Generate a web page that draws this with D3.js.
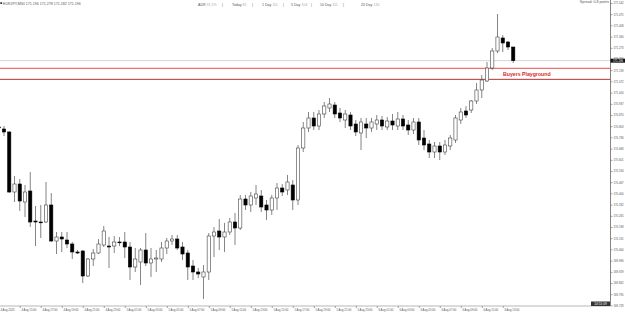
<!DOCTYPE html>
<html>
<head>
<meta charset="utf-8">
<script src="https://cdn.jsdelivr.net/npm/d3@7/dist/d3.min.js"></script>
<style>
    html, body { margin: 0; padding: 0; background: #fff; }
    svg { display: block; font-family: Arial, "Liberation Sans", sans-serif; }
    .axis text { fill: #555; font-size: 2.8px; }
    .axis line { stroke: #666; stroke-width: 0.6; }
    .hdr { fill: #555; font-size: 3.6px; }
    .hdr-val { fill: #aaa; }
</style>
</head>
<body>
<div id="chart"></div>
<script>
// EURJPY M30, one entry per bar (first bar is the clipped one at the left edge)
const candleOpen = [
    170.798, 170.786, 170.768, 170.408, 170.456, 170.348, 170.414, 170.234, 170.228, 170.228,
    170.330, 170.114, 170.138, 170.120, 170.096, 170.048, 170.054, 169.904, 170.006, 170.042,
    170.090, 170.084, 170.084, 170.108, 170.108, 170.078, 169.958, 169.988, 170.060, 169.982,
    170.006, 170.006, 170.072, 170.114, 170.126, 170.078, 170.042, 169.964, 169.928, 169.898,
    169.928, 170.144, 170.174, 170.138, 170.168, 170.228, 170.192, 170.366, 170.330, 170.372,
    170.384, 170.330, 170.300, 170.372, 170.432, 170.420, 170.450, 170.360, 170.672, 170.792,
    170.852, 170.804, 170.876, 170.912, 170.930, 170.882, 170.840, 170.870, 170.816, 170.762,
    170.816, 170.792, 170.816, 170.840, 170.798, 170.834, 170.804, 170.846, 170.810, 170.780,
    170.828, 170.732, 170.696, 170.648, 170.684, 170.648, 170.684, 170.720, 170.840, 170.894,
    170.900, 170.954, 171.020, 171.074, 171.152, 171.254, 171.332, 171.308, 171.278
];
const candleHigh = [
    170.816, 170.804, 170.774, 170.504, 170.486, 170.450, 170.528, 170.324, 170.330, 170.468,
    170.402, 170.168, 170.168, 170.168, 170.108, 170.060, 170.060, 170.012, 170.066, 170.126,
    170.204, 170.138, 170.144, 170.138, 170.168, 170.108, 170.072, 170.072, 170.162, 170.072,
    170.060, 170.108, 170.132, 170.150, 170.150, 170.108, 170.060, 170.000, 169.952, 169.970,
    170.162, 170.198, 170.246, 170.222, 170.252, 170.282, 170.390, 170.390, 170.408, 170.450,
    170.420, 170.360, 170.390, 170.462, 170.456, 170.510, 170.480, 170.690, 170.828, 170.888,
    170.888, 170.900, 170.948, 170.972, 170.948, 170.912, 170.900, 170.888, 170.840, 170.852,
    170.852, 170.852, 170.870, 170.864, 170.858, 170.876, 170.888, 170.870, 170.840, 170.852,
    170.852, 170.780, 170.720, 170.708, 170.708, 170.720, 170.750, 170.870, 170.912, 170.924,
    170.960, 171.062, 171.110, 171.188, 171.272, 171.476, 171.350, 171.314, 171.278
];
const candleLow = [
    170.780, 170.744, 170.402, 170.348, 170.294, 170.258, 170.198, 170.084, 170.132, 170.222,
    170.108, 170.036, 170.048, 170.072, 170.006, 170.036, 169.862, 169.898, 169.964, 170.036,
    170.078, 169.952, 170.042, 170.084, 170.012, 169.880, 169.928, 169.850, 169.964, 169.898,
    169.928, 169.988, 170.036, 170.090, 170.060, 170.000, 169.880, 169.880, 169.892, 169.766,
    169.880, 170.018, 170.060, 170.048, 170.150, 170.090, 170.180, 170.300, 170.288, 170.330,
    170.288, 170.240, 170.270, 170.300, 170.384, 170.390, 170.300, 170.330, 170.648, 170.768,
    170.780, 170.780, 170.852, 170.888, 170.852, 170.828, 170.792, 170.780, 170.744, 170.660,
    170.732, 170.768, 170.780, 170.780, 170.780, 170.780, 170.780, 170.780, 170.750, 170.756,
    170.690, 170.660, 170.612, 170.612, 170.600, 170.630, 170.660, 170.702, 170.816, 170.852,
    170.882, 170.936, 170.972, 171.068, 171.140, 171.242, 171.248, 171.260, 171.182
];
const candleClose = [
    170.795, 170.768, 170.408, 170.456, 170.354, 170.408, 170.228, 170.228, 170.226, 170.330,
    170.114, 170.138, 170.126, 170.096, 170.048, 170.042, 169.904, 170.006, 170.042, 170.096,
    170.174, 170.078, 170.108, 170.106, 170.078, 169.958, 170.006, 170.060, 169.982, 170.006,
    170.012, 170.072, 170.114, 170.126, 170.072, 170.036, 169.958, 169.928, 169.916, 169.928,
    170.144, 170.168, 170.138, 170.168, 170.228, 170.192, 170.366, 170.330, 170.384, 170.396,
    170.318, 170.300, 170.372, 170.432, 170.408, 170.468, 170.360, 170.672, 170.792, 170.852,
    170.804, 170.876, 170.924, 170.936, 170.876, 170.852, 170.876, 170.804, 170.768, 170.828,
    170.792, 170.828, 170.840, 170.804, 170.834, 170.810, 170.846, 170.804, 170.780, 170.828,
    170.720, 170.690, 170.648, 170.684, 170.648, 170.690, 170.732, 170.852, 170.888, 170.870,
    170.954, 171.020, 171.080, 171.152, 171.254, 171.338, 171.302, 171.278, 171.196
];

// one label every 4 bars, starting at the first (clipped) bar
const timeLabels = [
    '4 Aug 2025', '4 Aug 15:00', '4 Aug 17:00', '4 Aug 19:00', '4 Aug 21:00', '4 Aug 23:00',
    '5 Aug 01:00', '5 Aug 03:00', '5 Aug 05:00', '5 Aug 07:00', '5 Aug 09:00', '5 Aug 11:00',
    '5 Aug 13:00', '5 Aug 15:00', '5 Aug 17:00', '5 Aug 19:00', '5 Aug 21:00', '5 Aug 23:00',
    '6 Aug 01:00', '6 Aug 03:00', '6 Aug 05:00', '6 Aug 07:00', '6 Aug 09:00', '6 Aug 11:00',
    '6 Aug 13:00'
];

const priceTicks = [
    171.542, 171.475, 171.408, 171.340, 171.273, 171.206, 171.139, 171.072, 171.004, 170.937,
    170.870, 170.803, 170.736, 170.668, 170.601, 170.534, 170.467, 170.400, 170.332, 170.265,
    170.198, 170.131, 170.064, 169.996, 169.929, 169.862, 169.795, 169.728
];

const zoneTop = 171.150;
const zoneBottom = 171.084;
const zoneLabel = 'Buyers Playground';

const adrNames = ['ADR', 'Today', '1 Day', '5 Day', '10 Day', '20 Day'];
const adrValues = ['91.5%', '81', '111', '104', '111', '130'];

const symbolTitle = 'EURJPY,M30';
const spreadText = 'Spread: 0.8 points';
const countdownText = '14:51:09';

const width = 625;
const height = 314;
const axisX = 610.5;
const axisY = 306;

const svg = d3.select('#chart')
    .append('svg')
    .attr('width', width)
    .attr('height', height)
    .attr('viewBox', `0 0 ${width} ${height}`);

const candles = candleOpen.map((open, i) => ({
    i,
    open,
    high: candleHigh[i],
    low: candleLow[i],
    close: candleClose[i]
}));

const x = d3.scaleLinear()
    .domain([0, candles.length - 1])
    .range([-1.25, 513.25]);

const y = d3.scaleLinear()
    .domain([169.700, 171.560])
    .range([310, 0]);

const bodyWidth = 3.2;

const plot = svg.append('g');
plot.append('clipPath')
    .attr('id', 'plot-clip')
    .append('rect')
    .attr('x', 0)
    .attr('y', 0)
    .attr('width', axisX)
    .attr('height', axisY);

const marks = plot.append('g').attr('clip-path', 'url(#plot-clip)');

// horizontal levels
marks.append('line')
    .attr('x1', 0).attr('x2', axisX)
    .attr('y1', y(candleClose[candleClose.length - 1]))
    .attr('y2', y(candleClose[candleClose.length - 1]))
    .attr('stroke', '#d6d6d6')
    .attr('stroke-width', 1);

marks.append('line')
    .attr('x1', 0).attr('x2', axisX)
    .attr('y1', y(zoneTop)).attr('y2', y(zoneTop))
    .attr('stroke', '#f07070')
    .attr('stroke-width', 1.3);

marks.append('line')
    .attr('x1', 0).attr('x2', axisX)
    .attr('y1', y(zoneBottom)).attr('y2', y(zoneBottom))
    .attr('stroke', '#b83030')
    .attr('stroke-width', 1);

marks.append('text')
    .attr('x', 503)
    .attr('y', (y(zoneTop) + y(zoneBottom)) / 2 + 1.8)
    .attr('fill', '#e02424')
    .attr('font-size', 5.2)
    .attr('font-weight', 'bold')
    .text(zoneLabel);

// candles
const bars = marks.append('g')
    .selectAll('g')
    .data(candles)
    .join('g');

bars.append('line')
    .attr('x1', d => x(d.i))
    .attr('x2', d => x(d.i))
    .attr('y1', d => y(d.high))
    .attr('y2', d => y(d.low))
    .attr('stroke', '#666')
    .attr('stroke-width', 0.8);

bars.append('rect')
    .attr('x', d => x(d.i) - bodyWidth / 2)
    .attr('y', d => y(Math.max(d.open, d.close)))
    .attr('width', bodyWidth)
    .attr('height', d => Math.max(Math.abs(y(d.open) - y(d.close)), 0.8))
    .attr('fill', d => d.close < d.open ? '#000' : '#fff')
    .attr('stroke', d => d.close < d.open ? '#000' : '#444')
    .attr('stroke-width', 0.6);

// price axis
const yAxis = svg.append('g')
    .attr('class', 'axis')
    .attr('transform', `translate(${axisX},0)`)
    .call(d3.axisRight(y)
        .tickValues(priceTicks)
        .tickSize(2)
        .tickPadding(1)
        .tickFormat(d3.format('.3f')));
yAxis.select('.domain').remove();

svg.append('line')
    .attr('x1', axisX).attr('x2', axisX)
    .attr('y1', 0).attr('y2', axisY)
    .attr('stroke', '#666')
    .attr('stroke-width', 0.8);

// time axis
const labelIndex = timeLabels.map((_, j) => j * 4);
const xAxis = svg.append('g')
    .attr('class', 'axis')
    .attr('transform', `translate(0,${axisY})`)
    .call(d3.axisBottom(x)
        .tickValues(labelIndex)
        .tickSize(2)
        .tickPadding(1.2)
        .tickFormat((d, j) => timeLabels[j]));
xAxis.select('.domain').remove();
xAxis.selectAll('text')
    .attr('text-anchor', 'start')
    .attr('dx', 1.2);

svg.append('line')
    .attr('x1', 0).attr('x2', axisX)
    .attr('y1', axisY).attr('y2', axisY)
    .attr('stroke', '#888')
    .attr('stroke-width', 0.6);

// current price tag
const last = candleClose[candleClose.length - 1];
svg.append('rect')
    .attr('x', axisX)
    .attr('y', y(last) - 2)
    .attr('width', width - axisX)
    .attr('height', 4)
    .attr('fill', '#111');
svg.append('text')
    .attr('x', axisX + 2.5)
    .attr('y', y(last) + 1)
    .attr('fill', '#fff')
    .attr('font-size', 2.8)
    .text(d3.format('.3f')(last));

// countdown box
svg.append('rect')
    .attr('x', 591)
    .attr('y', 301.5)
    .attr('width', 19)
    .attr('height', 4.5)
    .attr('fill', '#333');
svg.append('text')
    .attr('x', 600.5)
    .attr('y', 305)
    .attr('text-anchor', 'middle')
    .attr('fill', '#fff')
    .attr('font-size', 3.2)
    .text(countdownText);

// header
svg.append('rect')
    .attr('x', 0.3).attr('y', 2.2)
    .attr('width', 1.8).attr('height', 1.8)
    .attr('fill', '#333');
svg.append('text')
    .attr('class', 'hdr')
    .attr('x', 3)
    .attr('y', 5)
    .attr('font-size', 3)
    .text(`${symbolTitle}  ${[last, candleHigh[candleHigh.length - 1], candleLow[candleLow.length - 1], last]
        .map(d3.format('.3f')).join(' ')}`);

const adrX = [198, 232, 262, 291, 320, 361];
const sepX = [222, 252, 283, 311, 343];
adrNames.forEach((name, i) => {
    const t = svg.append('text')
        .attr('class', 'hdr')
        .attr('x', adrX[i])
        .attr('y', 6);
    t.append('tspan').text(name + ' ');
    t.append('tspan').attr('class', 'hdr-val').text(adrValues[i]);
});
sepX.forEach(sx => {
    svg.append('text')
        .attr('class', 'hdr')
        .attr('x', sx)
        .attr('y', 6)
        .text('|');
});

svg.append('text')
    .attr('class', 'hdr')
    .attr('x', 609)
    .attr('y', 3.2)
    .attr('text-anchor', 'end')
    .attr('font-size', 3)
    .text(spreadText);
</script>
</body>
</html>
